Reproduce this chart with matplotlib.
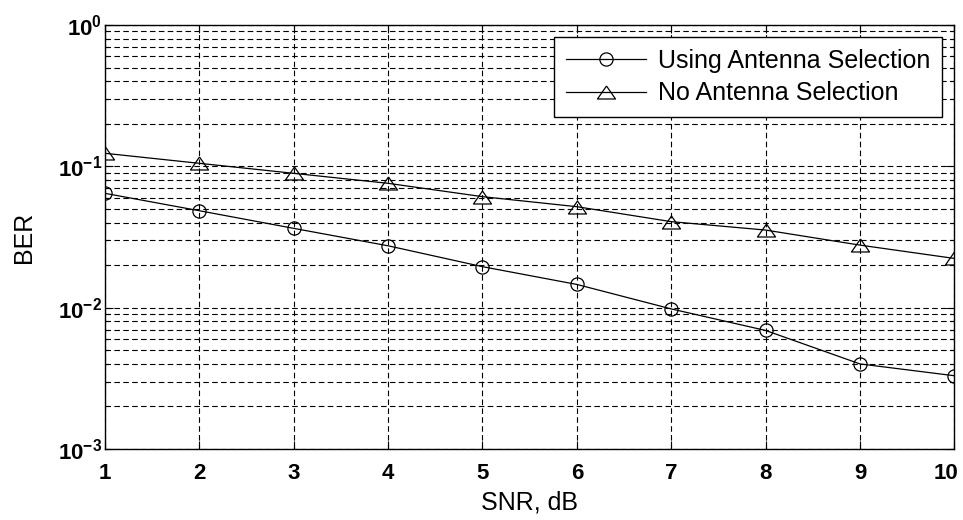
import numpy as np
import matplotlib.pyplot as plt
import matplotlib.transforms as mtransforms
from matplotlib.ticker import LogLocator, NullFormatter

# SNR in dB and measured BER for each scheme
snr_db = [1, 2, 3, 4, 5, 6, 7, 8, 9, 10]
ber_with_sel = [0.0644, 0.0485, 0.0364, 0.0274, 0.0195, 0.0146, 0.0098, 0.0069, 0.0040, 0.0033]
ber_no_sel = [0.1236, 0.105, 0.0892, 0.0758, 0.061, 0.0518, 0.0406, 0.0354, 0.0277, 0.0223]
series_labels = ['Using Antenna Selection', 'No Antenna Selection']

plt.rcParams['font.family'] = ['Liberation Sans', 'DejaVu Sans']
plt.rcParams['axes.unicode_minus'] = False
plt.rcParams['mathtext.fontset'] = 'custom'
plt.rcParams['mathtext.rm'] = 'Liberation Sans:bold'

# MATLAB-like wide, flat triangle
tri = [(0, 0.72), (-1, -0.72), (1, -0.72), (0, 0.72)]

fig = plt.figure(figsize=(9.63, 5.20), dpi=100)
ax = fig.add_axes([0.109, 0.1365, 0.882, 0.8155])

ax.semilogy(snr_db, ber_with_sel, color='black', lw=0.9, marker='o',
            ms=9.5, mfc='none', mec='black', mew=0.9, label=series_labels[0])
ax.semilogy(snr_db, ber_no_sel, color='black', lw=0.9, marker=tri,
            ms=13, mfc='none', mec='black', mew=0.9, label=series_labels[1])

ax.set_xlim(1, 10)
ax.set_ylim(1e-3, 1e0)
ax.set_xticks(snr_db)
ax.yaxis.set_major_locator(LogLocator(base=10, numticks=10))
ax.yaxis.set_minor_locator(LogLocator(base=10, subs=np.arange(2, 10), numticks=20))
ax.yaxis.set_minor_formatter(NullFormatter())

# MATLAB-style grid: major + minor on y, major on x
dash = (0, (5, 3))
ax.grid(True, which='major', axis='both', color='black', lw=0.8, linestyle=dash)
ax.grid(True, which='minor', axis='y', color='black', lw=0.8, linestyle=dash)

ax.tick_params(which='both', direction='in', top=True, right=True)
ax.tick_params(which='major', length=6, width=0.8, labelsize=16)
ax.tick_params(axis='x', which='major', pad=10)
ax.tick_params(axis='y', which='major', pad=2)
ax.tick_params(which='minor', length=3, width=0.8)
for lbl in ax.get_xticklabels() + ax.get_yticklabels():
    lbl.set_fontweight('bold')
for s in ax.spines.values():
    s.set_linewidth(1.0)

# nudge the last x label left so it stays inside the figure
last = ax.get_xticklabels()[-1]
last.set_transform(last.get_transform() +
                   mtransforms.ScaledTranslation(-6 / 72, 0, fig.dpi_scale_trans))

ax.set_xlabel('SNR, dB', fontsize=18, labelpad=5)
ax.set_ylabel('BER', fontsize=18, labelpad=16)

leg = ax.legend(loc='upper right', fontsize=18, frameon=True, fancybox=False,
                edgecolor='black', framealpha=1, handlelength=3.2,
                handletextpad=0.5, borderaxespad=0.5, borderpad=0.45,
                labelspacing=0.35)
leg.get_frame().set_linewidth(1.0)

fig.savefig('out.png', dpi=100)
